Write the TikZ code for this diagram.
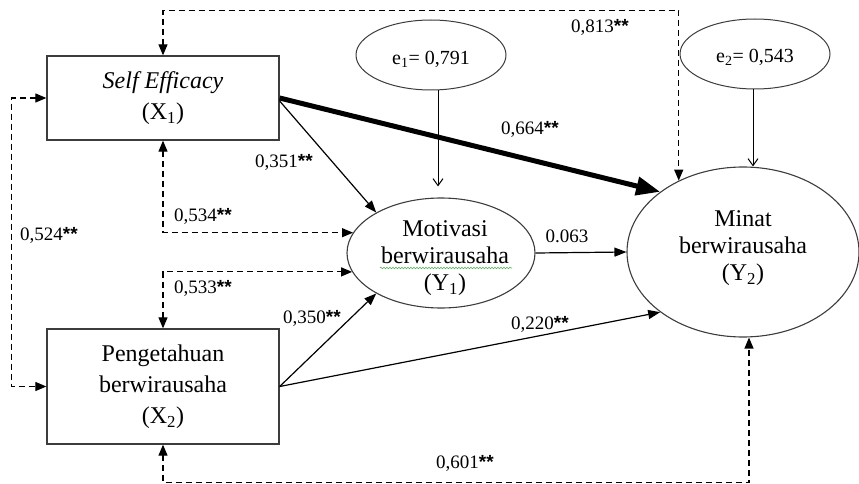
\documentclass[tikz,border=0pt]{standalone}
\usepackage{fontspec}
\setmainfont{Liberation Serif}
\newfontfamily\sigfont{Liberation Sans}
\usetikzlibrary{shapes.geometric, arrows.meta, decorations.pathmorphing}
\definecolor{boxgray}{RGB}{60,60,60}
\definecolor{spellgreen}{RGB}{90,180,90}
\newcommand{\sig}{{\sigfont\bfseries **}}

\begin{document}
\begin{tikzpicture}[x=1pt, y=-1pt,
    var/.style={draw=boxgray, line width=1.3pt, rectangle, minimum width=232pt, align=center, inner sep=0pt, font=\fontsize{24}{31}\selectfont},
    lat/.style={draw=boxgray, line width=1.1pt, ellipse, inner sep=0pt},
    lattext/.style={align=center, inner sep=0pt, font=\fontsize{24}{27}\selectfont},
    err/.style={draw=boxgray, line width=1pt, ellipse, minimum width=150pt, minimum height=70pt, inner sep=0pt, font=\fontsize{20}{24}\selectfont},
    errtext/.style={inner sep=0pt, font=\fontsize{20}{24}\selectfont},
    coef/.style={inner sep=0pt, font=\fontsize{19}{22}\selectfont},
    effect/.style={line width=1.2pt, -{Triangle[length=12pt,width=9pt]}},
    strong/.style={line width=5pt, -{Triangle[length=24pt,width=18pt]}},
    resid/.style={line width=1pt, -{Straight Barb[length=7pt,width=10pt]}},
    cov/.style={line width=1.2pt, dash pattern=on 6pt off 4pt, {Triangle[length=11pt,width=9pt]}-{Triangle[length=11pt,width=9pt]}},
    spell/.style={spellgreen, line width=0.6pt, decorate, decoration={snake, amplitude=0.8pt, segment length=3pt}}
]
\useasboundingbox (0,0) rectangle (859,484);

% variables
\node[var, minimum height=84pt] (x1) at (163,98) {\textit{Self Efficacy}\\(X\textsubscript{1})};
\node[var, minimum height=115pt] (x2) at (163,386.5) {Pengetahuan\\berwirausaha\\(X\textsubscript{2})};
\node[lat, minimum width=188pt, minimum height=110pt,
      label={[lattext, xshift=4pt, yshift=-5pt]center:Motivasi\\berwirausaha\\(Y\textsubscript{1})}] (y1) at (441,253) {};
\node[lat, minimum width=232pt, minimum height=170pt,
      label={[lattext, yshift=4pt]center:Minat\\berwirausaha\\(Y\textsubscript{2})}] (y2) at (743,252) {};
\node[err, label={[errtext, yshift=-4pt]center:e\textsubscript{1}= 0,791}] (e1) at (431,55) {};
\node[err, label={[errtext, yshift=-3pt]center:e\textsubscript{2}= 0,543}] (e2) at (755,54) {};
\draw[spell] (380,268) -- (512,268);

% paths
\draw[strong] (x1.east) -- (y2.144);
\draw[effect] ([yshift=-3pt]x1.east) -- (y1.148);
\draw[effect] (x2.east) -- (y1.212);
\draw[effect] (x2.east) -- (y2.216);
\draw[effect] (y1.east) -- (y2.west);
\draw[resid, shorten >=11pt] ([xshift=7pt]e1.south) -- ([xshift=-3pt]y1.north);
\draw[resid] ([xshift=-2pt]e2.south) -- ([xshift=10pt]y2.north);

% correlations
\draw[cov] (x1.north) -- ++(0,-45) -| (y2.132);
\draw[cov] (x1.west) -- ++(-35,0) |- (x2.west);
\draw[cov] (x1.south) |- (y1.167);
\draw[cov] (x2.north) |- (y1.192);
\draw[cov] (x2.south) -- ++(0,38) -| ([xshift=6pt]y2.south);

% coefficients
\node[coef] (c351) at (284,162) {0,351\sig};
\node[coef] (c664) at (530,129) {0,664\sig};
\node[coef] (c813) at (600,27) {0,813\sig};
\node[coef] (c534) at (203,216) {0,534\sig};
\node[coef] (c524) at (49,235) {0,524\sig};
\node[coef] (c063) at (567,236) {0.063};
\node[coef] (c533) at (203,288) {0,533\sig};
\node[coef] (c350) at (312,318) {0,350\sig};
\node[coef] (c220) at (540,324) {0,220\sig};
\node[coef] (c601) at (465,463) {0,601\sig};
\end{tikzpicture}
\end{document}
